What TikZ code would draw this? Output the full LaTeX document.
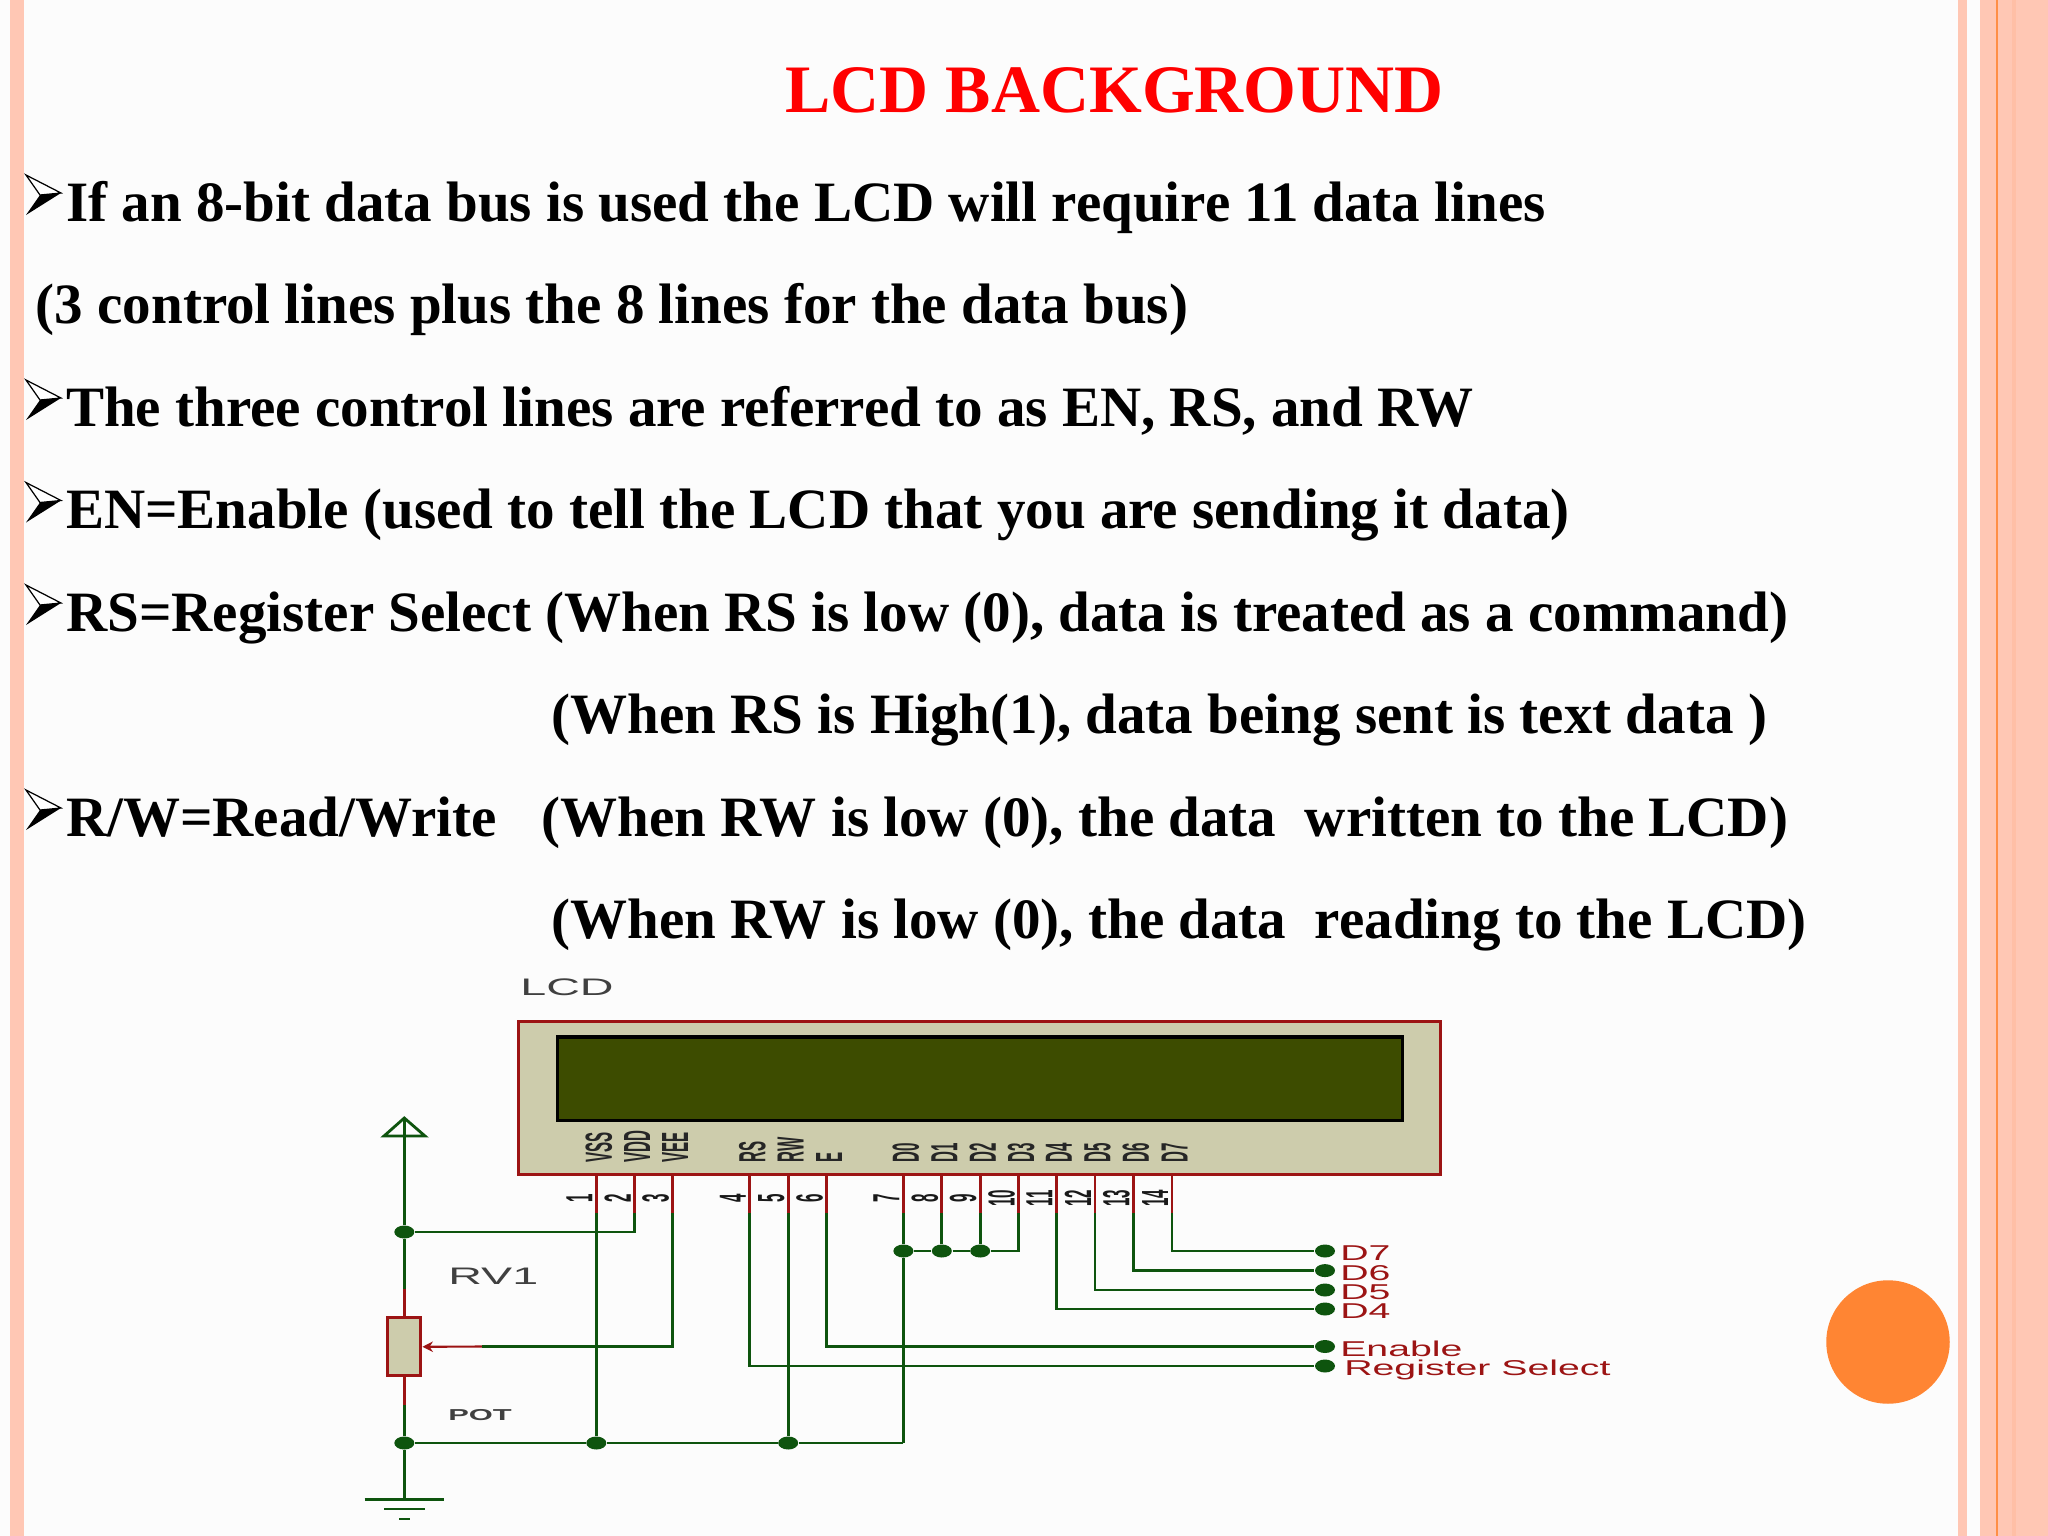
\documentclass[tikz,border=0pt]{standalone}
\usepackage{fontspec}
\usepackage{tikz}
\usetikzlibrary{shapes.geometric,arrows.meta}
\setmainfont{Liberation Serif}
\setsansfont{Liberation Sans}
\definecolor{wirec}{HTML}{0E540E}
\definecolor{pinc}{HTML}{9C1414}
\definecolor{bodyc}{HTML}{CDCCAC}
\definecolor{screenc}{HTML}{3D4C00}
\definecolor{stripec}{HTML}{FFC7B4}
\definecolor{stripek}{HTML}{FFBFA6}
\definecolor{orangec}{HTML}{FF8533}
\begin{document}
\begin{tikzpicture}[x=0.01cm,y=-0.01cm]
    \tikzstyle{line}=[anchor=base west,inner sep=0pt,font=\fontsize{16.22}{18}\selectfont\bfseries,text=black]
    \tikzstyle{wire}=[draw=wirec,line width=0.8pt]
    \tikzstyle{thin}=[draw=wirec,line width=0.6pt]
    \tikzstyle{pin}=[draw=pinc,line width=0.8pt]
    \tikzstyle{dot}=[ellipse,fill=wirec,inner sep=0pt,minimum width=0.2cm,minimum height=0.13cm]
    \tikzstyle{sch}=[inner sep=0pt,font=\sffamily\fontsize{6.8}{8}\selectfont,text=black!75,xscale=1.95,transform shape]
    \tikzstyle{tag}=[inner sep=0pt,anchor=west,text=pinc,font=\sffamily\fontsize{6.1}{8}\selectfont,xscale=1.83,transform shape]
    \tikzstyle{pinname}=[inner sep=0pt,anchor=west,font=\sffamily\bfseries\fontsize{4.3}{5}\selectfont,text=black!85,xscale=2.5,rotate=90,transform shape]
    \tikzstyle{pinnum}=[inner sep=0pt,font=\sffamily\bfseries\fontsize{4.3}{5}\selectfont,text=black!90,xscale=2.5,rotate=90,transform shape]
    \tikzset{mark/.pic={
        \fill[black] (60,-28) -- (25,-6) -- (39,-26) -- cycle;
        \draw[black,line width=0.35pt,fill=white,line join=miter] (60,-28) -- (25,-46) -- (39,-26) -- cycle;
    }}

\useasboundingbox (0,0) rectangle (2048,1536);
\fill[white!99!black] (0,0) rectangle (2048,1536);

% border stripes
\fill[stripec] (10,0) rectangle (24,1536);
\fill[stripec] (1958,0) rectangle (1967,1536);
\fill[stripec] (1980,0) rectangle (2048,1536);
\fill[stripek] (2012,0) rectangle (2016,1536);
\fill[orangec!85!stripec] (1996,0) rectangle (1998,1536);
\node[circle,fill=orangec,minimum size=1.234cm,inner sep=0pt] (ball) at (1888,1342) {};

% text
\node[line,font=\fontsize{19.3}{22}\selectfont\bfseries,text=red] (title) at (785,112.5) {LCD BACKGROUND};
\node[line] (l1) at (65.5,221) {If an 8-bit data bus is used the LCD will require 11 data lines};
\node[line] (l2) at (35,323.5) {(3 control lines plus the 8 lines for the data bus)};
\node[line] (l3) at (65.5,426) {The three control lines are referred to as EN, RS, and RW};
\node[line] (l4) at (65.5,528.5) {EN=Enable (used to tell the LCD that you are sending it data)};
\node[line] (l5) at (65.5,631) {RS=Register Select (When RS is low (0), data is treated as a command)};
\node[line] (l6) at (551,733.5) {(When RS is High(1), data being sent is text data )};
\node[line] (l7) at (65.5,836) {R/W=Read/Write};
\node[line] (l7b) at (541,836) {(When RW is low (0), the data\ \ written to the LCD)};
\node[line] (l8) at (551,938.5) {(When RW is low (0), the data\ \ reading to the LCD)};
\foreach \y in {221,426,528.5,631,836}{
\pic at (1,\y) {mark};
};

% lcd module
\node[sch,anchor=west] (lcdname) at (519,987) {LCD};
\draw[pin,fill=bodyc] (518.5,1021.5) rectangle (1440.6,1174.7);
\draw[draw=black,line width=0.9pt,fill=screenc] (557.7,1037) rectangle (1402.7,1120.7);

\foreach \n/\x/\t in {1/596.3/VSS,2/634.6/VDD,3/672.6/VEE,4/749.8/RS,5/788.2/RW,6/826.6/E,
7/903.4/D0,8/941.8/D1,9/980.2/D2,10/1018.6/D3,11/1056.3/D4,12/1095/D5,13/1133.4/D6,14/1172/D7}{
\coordinate (s\n) at (\x,1174.7);
\coordinate (e\n) at (\x,1213);
\draw[pin] (s\n) -- (e\n);
\node[pinname] (name\n) at (\x+2.5,1163) {\t};
\node[pinnum] (num\n) at (\x-17,1198.5) {\n};
};

% junctions
\node[dot] (j1) at (404.3,1232) {};
\node[dot] (j2) at (404.3,1443) {};
\node[dot] (j3) at (596.3,1443) {};
\node[dot] (j4) at (788.2,1443) {};
\node[dot] (j5) at (903.4,1251) {};
\node[dot] (j6) at (941.8,1251) {};
\node[dot] (j7) at (980.2,1251) {};
\coordinate (c7) at (903.4,1443);

% supply, pot and ground
\coordinate (vtip) at (404.3,1118);
\coordinate (vleft) at (384,1136);
\coordinate (vright) at (425,1136);
\coordinate (rtop) at (404.3,1288.5);
\coordinate (rbot) at (404.3,1405);
\coordinate (gnd) at (404.3,1499.5);
\coordinate (wip) at (482,1346.5);
\node[draw=pinc,line width=0.9pt,fill=bodyc,minimum width=0.33cm,minimum height=0.58cm,inner sep=0pt] (rv) at (404.3,1346.8) {};
\draw[wire] (vtip) -- (vleft) -- (vright) -- cycle;
\draw[wire] (vtip) -- (j1) -- (rtop);
\draw[pin] (rtop) -- (rv);
\draw[pin] (rv) -- (rbot);
\draw[wire] (rbot) -- (j2) -- (gnd);
\draw[pin,line width=0.6pt,-{Stealth[length=3pt,width=3pt]}] (wip) -- (rv.east);
\coordinate (g1a) at (364.5,1499.5);
\coordinate (g1b) at (444,1499.5);
\coordinate (g2a) at (384,1509);
\coordinate (g2b) at (425,1509);
\coordinate (g3a) at (399,1519);
\coordinate (g3b) at (410,1519);
\draw[thin] (g1a) -- (g1b);
\draw[thin] (g2a) -- (g2b);
\draw[thin] (g3a) -- (g3b);
\node[sch,anchor=west] (rvname) at (447,1276) {RV1};
\node[sch,anchor=west,font=\sffamily\bfseries\fontsize{4.5}{6}\selectfont] (potname) at (447,1415) {POT};

% terminals
\foreach \a/\y/\t/\lx/\ly in {d7/1251/D7/1339/1253,d6/1270.6/D6/1339/1273,d5/1290/D5/1339/1292,d4/1309/D4/1339/1311,
en/1346.5/Enable/1339/1349,rs/1366/Register Select/1343/1370}{
\node[dot] (t\a) at (1325,\y) {};
\node[tag] (n\a) at (\lx,\ly) {\t};
};

% wires
\draw[wire] (e1) -- (j3);
\draw[wire] (e2) -- ++(0,19) -- (j1);
\draw[wire] (e3) -- ++(0,133.5) -- (wip);
\draw[wire] (e4) -- ++(0,153) -- (trs);
\draw[wire] (e5) -- (j4);
\draw[wire] (e6) -- ++(0,133.5) -- (ten);
\draw[wire] (e7) -- (j5) -- (c7);
\draw[thin] (c7) -- (j4) -- (j3) -- (j2);
\draw[wire] (e8) -- (j6);
\draw[wire] (e9) -- (j7);
\draw[wire] (e10) -- ++(0,38) -- (j7);
\draw[thin] (j5) -- (j6) -- (j7);
\draw[wire] (e11) |- (td4);
\draw[wire] (e12) |- (td5);
\draw[wire] (e13) |- (td6);
\draw[wire] (e14) |- (td7);
\end{tikzpicture}
\end{document}
